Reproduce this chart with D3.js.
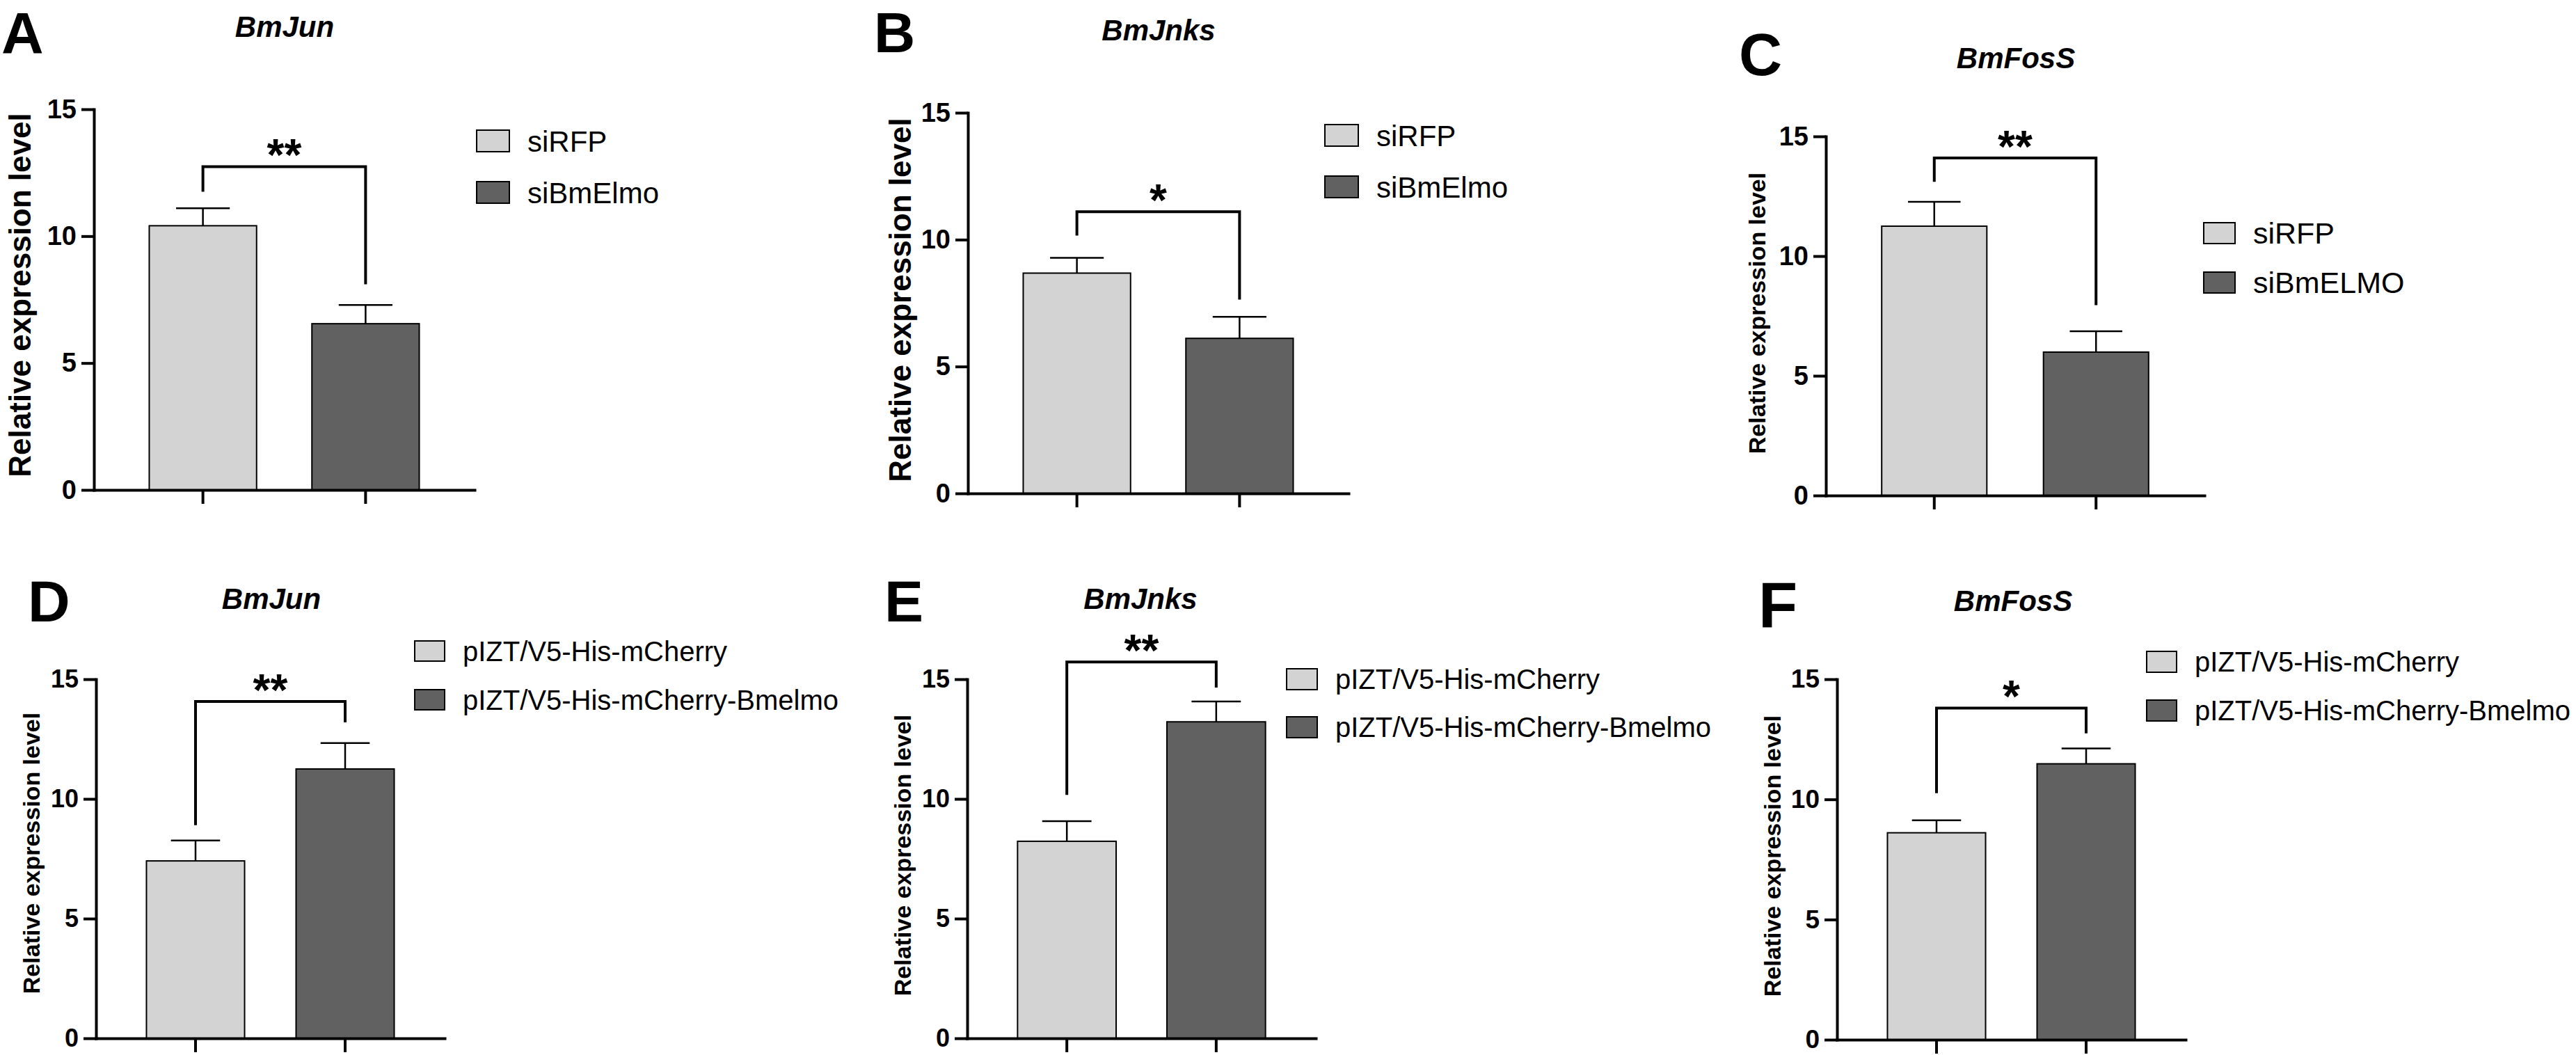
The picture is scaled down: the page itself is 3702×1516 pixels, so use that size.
<!DOCTYPE html>
<html>
<head>
<meta charset="utf-8">
<script src="https://cdn.jsdelivr.net/npm/d3@7"></script>
<style>
  body { margin: 0; background: #fff; }
  text { font-family: 'Liberation Sans', Arial, sans-serif; fill: #000; }
</style>
</head>
<body>
<svg id="fig" width="3702" height="1516"></svg>
<script>
// values
const panelIds = ['A', 'B', 'C', 'D', 'E', 'F'];
const genes = ['BmJun', 'BmJnks', 'BmFosS', 'BmJun', 'BmJnks', 'BmFosS'];
const legendLabels = [
  ['siRFP', 'siBmElmo'],
  ['siRFP', 'siBmElmo'],
  ['siRFP', 'siBmELMO'],
  ['pIZT/V5-His-mCherry', 'pIZT/V5-His-mCherry-Bmelmo'],
  ['pIZT/V5-His-mCherry', 'pIZT/V5-His-mCherry-Bmelmo'],
  ['pIZT/V5-His-mCherry', 'pIZT/V5-His-mCherry-Bmelmo']
];
const means = [[10.41, 6.55], [8.68, 6.11], [11.25, 5.99], [7.41, 11.25], [8.23, 13.22], [8.61, 11.48]];
const sems = [[0.69, 0.74], [0.60, 0.85], [1.02, 0.87], [0.85, 1.08], [0.84, 0.85], [0.52, 0.64]];
const sigMarks = ['**', '*', '**', '**', '**', '*'];
const bracketY = [12.74, 11.1, 14.1, 14.07, 15.72, 13.8];
const bracketLegs = [[11.75, 8.1], [10.16, 7.64], [13.1, 7.95], [8.9, 13.2], [10.17, 14.65], [10.26, 12.75]];
const yTicks = [0, 5, 10, 15];
const yLabel = 'Relative expression level';
const fills = ['#d3d3d3', '#616161'];

// panel placement
const layout = [
  {x0: 135, x1: 682, yTop: 157, yBot: 704, pi: 0.34, po: 0.34, align: 0.5, tickFs: 38,
   labX: 44, labY: 424, labFs: 44, titleX: 409, titleY: 53, letX: 2, letY: 77, letFs: 84,
   legX: 685, legY: [187, 261], legW: 47, legH: 31, legFs: 42},
  {x0: 1391, x1: 1938, yTop: 162, yBot: 709, pi: 0.34, po: 0.34, align: 0.5, tickFs: 38,
   labX: 1309, labY: 431, labFs: 44, titleX: 1665, titleY: 58, letX: 1256, letY: 75, letFs: 82,
   legX: 1904, legY: [179, 253], legW: 48, legH: 31, legFs: 42},
  {x0: 2624, x1: 3168, yTop: 196, yBot: 712, pi: 0.35, po: 0.345, align: 0.5, tickFs: 38,
   labX: 2537, labY: 450, labFs: 34, titleX: 2897, titleY: 98, letX: 2499, letY: 108, letFs: 86,
   legX: 3167, legY: [320, 391], legW: 45, legH: 30, legFs: 43},
  {x0: 138, x1: 639, yTop: 976, yBot: 1492, pi: 0.344, po: 0.337, align: 0.5, tickFs: 36,
   labX: 57, labY: 1226, labFs: 34, titleX: 390, titleY: 875, letX: 40, letY: 893, letFs: 84,
   legX: 596, legY: [921, 991], legW: 43, legH: 29, legFs: 40},
  {x0: 1390, x1: 1891, yTop: 976, yBot: 1492, pi: 0.34, po: 0.337, align: 0.5, tickFs: 36,
   labX: 1309, labY: 1229, labFs: 34, titleX: 1639, titleY: 875, letX: 1271, letY: 893, letFs: 84,
   legX: 1849, legY: [961, 1030], legW: 44, legH: 30, legFs: 40},
  {x0: 2640, x1: 3141, yTop: 976, yBot: 1494, pi: 0.344, po: 0.337, align: 0.5, tickFs: 37,
   labX: 2559, labY: 1230, labFs: 34, titleX: 2893, titleY: 878, letX: 2527, letY: 901, letFs: 92,
   legX: 3085, legY: [936, 1006], legW: 43, legH: 30, legFs: 40}
];

const svg = d3.select('#fig');
svg.append('rect').attr('width', 3702).attr('height', 1516).attr('fill', '#fff');

panelIds.forEach((id, i) => {
  const L = layout[i];
  const g = svg.append('g').attr('class', 'panel-' + id);

  const y = d3.scaleLinear().domain([0, 15]).range([L.yBot, L.yTop]);
  const x = d3.scaleBand().domain([0, 1]).range([L.x0, L.x1])
    .paddingInner(L.pi).paddingOuter(L.po).align(L.align);
  const bw = x.bandwidth();
  const cx = j => x(j) + bw / 2;

  // bars
  g.selectAll('rect.bar').data(means[i]).join('rect')
    .attr('class', 'bar')
    .attr('x', (d, j) => x(j))
    .attr('y', d => y(d))
    .attr('width', bw)
    .attr('height', d => y(0) - y(d))
    .attr('fill', (d, j) => fills[j])
    .attr('stroke', '#000')
    .attr('stroke-width', 2);

  // upper error bars
  const errs = means[i].map((m, j) => ({j: j, lo: m, hi: m + sems[i][j]}));
  g.selectAll('line.err').data(errs).join('line')
    .attr('class', 'err')
    .attr('x1', d => cx(d.j)).attr('x2', d => cx(d.j))
    .attr('y1', d => y(d.lo)).attr('y2', d => y(d.hi))
    .attr('stroke', '#000').attr('stroke-width', 2.5);
  g.selectAll('line.cap').data(errs).join('line')
    .attr('class', 'cap')
    .attr('x1', d => cx(d.j) - bw / 4).attr('x2', d => cx(d.j) + bw / 4)
    .attr('y1', d => y(d.hi)).attr('y2', d => y(d.hi))
    .attr('stroke', '#000').attr('stroke-width', 2.5);

  // axes
  const yAxis = g.append('g')
    .attr('transform', `translate(${L.x0},0)`)
    .call(d3.axisLeft(y).tickValues(yTicks).tickSize(18).tickSizeOuter(0).tickPadding(7));
  const xAxis = g.append('g')
    .attr('transform', `translate(0,${L.yBot})`)
    .call(d3.axisBottom(x).tickSize(20).tickSizeOuter(0).tickFormat(''));
  [yAxis, xAxis].forEach(ax => {
    ax.select('.domain').attr('stroke', '#000').attr('stroke-width', 4).attr('stroke-linecap', 'square');
    ax.selectAll('.tick line').attr('stroke', '#000').attr('stroke-width', 4);
  });
  yAxis.selectAll('.tick text')
    .attr('font-size', L.tickFs)
    .attr('font-weight', 'bold')
    .attr('font-family', "'Liberation Sans', Arial, sans-serif")
    .attr('fill', '#000');

  // significance bracket
  const by = y(bracketY[i]);
  g.append('path')
    .attr('d', `M${cx(0)},${y(bracketLegs[i][0])}V${by}H${cx(1)}V${y(bracketLegs[i][1])}`)
    .attr('fill', 'none')
    .attr('stroke', '#000')
    .attr('stroke-width', 4);
  g.append('text')
    .attr('x', (cx(0) + cx(1)) / 2)
    .attr('y', by + 6)
    .attr('text-anchor', 'middle')
    .attr('font-size', 64)
    .attr('font-weight', 'bold')
    .text(sigMarks[i]);

  // y label
  g.append('text')
    .attr('transform', `translate(${L.labX},${L.labY}) rotate(-90)`)
    .attr('text-anchor', 'middle')
    .attr('font-size', L.labFs)
    .attr('font-weight', 'bold')
    .text(yLabel);

  // gene title
  g.append('text')
    .attr('x', L.titleX)
    .attr('y', L.titleY)
    .attr('text-anchor', 'middle')
    .attr('font-size', 42)
    .attr('font-weight', 'bold')
    .attr('font-style', 'italic')
    .text(genes[i]);

  // panel letter
  g.append('text')
    .attr('x', L.letX)
    .attr('y', L.letY)
    .attr('font-size', L.letFs)
    .attr('font-weight', 'bold')
    .text(id);

  // legend
  legendLabels[i].forEach((lab, j) => {
    g.append('rect')
      .attr('x', L.legX)
      .attr('y', L.legY[j])
      .attr('width', L.legW)
      .attr('height', L.legH)
      .attr('fill', fills[j])
      .attr('stroke', '#000')
      .attr('stroke-width', 2);
    g.append('text')
      .attr('x', L.legX + L.legW + 26)
      .attr('y', L.legY[j] + L.legH / 2 + 0.36 * L.legFs)
      .attr('font-size', L.legFs)
      .text(lab);
  });
});
</script>
</body>
</html>
